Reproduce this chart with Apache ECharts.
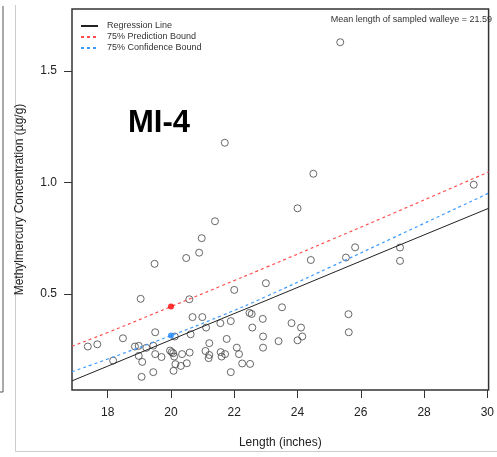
<!DOCTYPE html>
<html><head><meta charset="utf-8">
<script src="https://cdn.jsdelivr.net/npm/echarts@6/dist/echarts.min.js"></script>
<style>html,body{margin:0;padding:0;background:#fff}#c{width:497px;height:457px}</style>
</head><body><div id="c"></div>
<script>
// Observed walleye: length (inches) and methylmercury (ug/g)
const lengthIn = [17.37,17.67,18.17,18.48,18.86,18.98,18.98,19.04,19.07,19.09,19.22,19.44,19.44,19.48,19.50,19.50,19.70,19.97,20.02,20.07,20.10,20.12,20.14,20.08,20.31,20.35,20.48,20.50,20.58,20.59,20.62,20.68,20.89,20.97,20.99,21.09,21.11,21.19,21.21,21.21,21.39,21.56,21.57,21.60,21.70,21.71,21.76,21.89,21.89,22.00,22.08,22.15,22.25,22.48,22.55,22.57,22.50,22.90,22.91,22.91,23.00,23.40,23.51,23.81,24.00,24.00,24.11,24.15,24.42,24.50,25.35,25.53,25.61,25.62,25.82,27.24,27.24,29.57];
const mehg     = [0.264,0.274,0.201,0.301,0.264,0.267,0.222,0.478,0.128,0.195,0.258,0.268,0.149,0.635,0.328,0.230,0.217,0.246,0.239,0.234,0.219,0.309,0.185,0.155,0.177,0.230,0.661,0.189,0.476,0.237,0.319,0.396,0.685,0.750,0.396,0.244,0.349,0.212,0.279,0.226,0.826,0.369,0.239,0.219,1.178,0.230,0.298,0.378,0.149,0.518,0.259,0.230,0.188,0.415,0.410,0.349,0.186,0.388,0.309,0.259,0.548,0.288,0.440,0.369,0.884,0.292,0.349,0.309,0.652,1.039,1.629,0.663,0.409,0.328,0.709,0.708,0.648,0.990];
// Fitted curves sampled along length
const fitX      = [16.87,18,20,21.59,23,25,27,30.04];
const regLine   = [0.110,0.176,0.294,0.388,0.470,0.588,0.706,0.884];
const predBound = [0.265,0.327,0.443,0.536,0.619,0.739,0.860,1.047];
const confBound = [0.151,0.208,0.313,0.402,0.488,0.618,0.750,0.952];
const predPoint = [20, 0.443];
const confPoint = [20, 0.313];
const xTicks = [18,20,22,24,26,28,30];
const yTicks = [0.5,1.0,1.5];
const xRange = [16.87, 30.04];
const yRange = [0.069, 1.778];
const meanLength = 21.59;

const pts = lengthIn.map((x,i)=>[x, mehg[i]]);
const pair = arr => fitX.map((x,i)=>[x, arr[i]]);
const FONT = '"Liberation Sans", Arial, sans-serif';

const chart = echarts.init(document.getElementById('c'), null, {renderer:'canvas'});
chart.setOption({
  animation:false,
  backgroundColor:'#fff',
  grid:{left:72, top:9, right:1, bottom:67, show:true, borderColor:'#333', borderWidth:1.5, backgroundColor:'transparent'},
  legend:{
    orient:'vertical', left:75, top:16, itemWidth:17, itemHeight:10, itemGap:1,
    itemStyle:{color:'rgba(0,0,0,0)', borderColor:'rgba(0,0,0,0)', borderWidth:0, opacity:0},
    textStyle:{fontFamily:FONT, fontSize:9, color:'#333', lineHeight:10, padding:[0,0,0,4]},
    data:['Regression Line','75% Prediction Bound','75% Confidence Bound']
  },
  xAxis:{
    type:'value', min:xRange[0], max:xRange[1],
    name:'Length (inches)', nameLocation:'middle', nameGap:47,
    nameTextStyle:{fontFamily:FONT, fontSize:12, color:'#222'},
    axisLine:{show:false}, splitLine:{show:false},
    axisTick:{show:true, inside:false, length:8, customValues:xTicks, lineStyle:{color:'#333'}},
    axisLabel:{customValues:xTicks, margin:17, fontFamily:FONT, fontSize:12, color:'#222',
      showMinLabel:true, showMaxLabel:true}
  },
  yAxis:{
    type:'value', min:yRange[0], max:yRange[1],
    name:'Methylmercury Concentration (\u00b5g/g)', nameLocation:'middle', nameGap:46,
    nameTextStyle:{fontFamily:FONT, fontSize:12, color:'#222'},
    axisLine:{show:false}, splitLine:{show:false},
    axisTick:{show:true, length:8, customValues:yTicks, lineStyle:{color:'#333'}},
    axisLabel:{customValues:yTicks, margin:15, fontFamily:FONT, fontSize:12, color:'#222',
      formatter:v=>v.toFixed(1)}
  },
  graphic:[
    {type:'line', shape:{x1:3, y1:6, x2:3, y2:392}, style:{stroke:'#555', lineWidth:1}},
    {type:'line', shape:{x1:0, y1:392, x2:3, y2:392}, style:{stroke:'#555', lineWidth:1}},
    {type:'line', shape:{x1:15.5, y1:5, x2:15.5, y2:451.5}, style:{stroke:'#ccc', lineWidth:1}},
    {type:'line', shape:{x1:15.5, y1:451.5, x2:497, y2:451.5}, style:{stroke:'#ccc', lineWidth:1}},
    {type:'text', left:128, top:108, style:{text:'MI-4', font:'bold 31px '+FONT, fill:'#000'}},
    {type:'text', right:5, top:15, style:{text:'Mean length of sampled walleye = '+meanLength.toFixed(2), font:'9px '+FONT, fill:'#333'}}
  ],
  series:[
    {type:'scatter', name:'obs', data:pts, symbol:'circle', symbolSize:7,
      itemStyle:{color:'rgba(255,255,255,0)', borderColor:'#444', borderWidth:1}, z:3},
    {type:'line', name:'Regression Line', data:pair(regLine), symbol:'none', smooth:false,
      lineStyle:{color:'#222', width:1, type:'solid'}, itemStyle:{color:'#222'}, z:4},
    {type:'line', name:'75% Prediction Bound', data:pair(predBound), symbol:'none', smooth:true,
      lineStyle:{color:'#ff4d4d', width:1.2, type:[3,3]}, itemStyle:{color:'#ff4d4d'}, z:4},
    {type:'line', name:'75% Confidence Bound', data:pair(confBound), symbol:'none', smooth:true,
      lineStyle:{color:'#3d9bff', width:1.2, type:[3,3]}, itemStyle:{color:'#3d9bff'}, z:4},
    {type:'scatter', name:'pred', data:[predPoint], symbolSize:6, itemStyle:{color:'#ff0000'}, z:5},
    {type:'scatter', name:'conf', data:[confPoint], symbolSize:6, itemStyle:{color:'#1e88ff'}, z:5}
  ]
});
</script></body></html>
